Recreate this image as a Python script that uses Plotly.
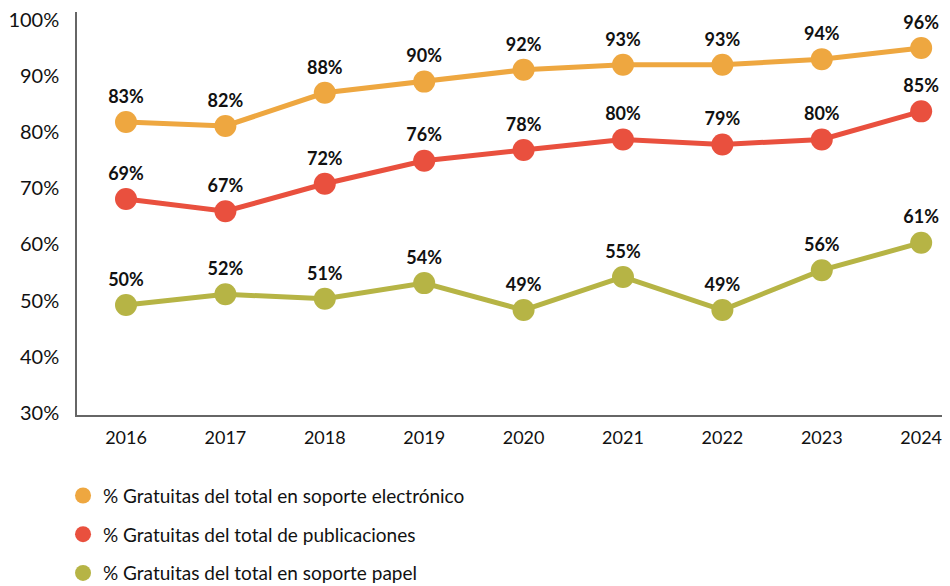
import plotly.graph_objects as go

years = [2016, 2017, 2018, 2019, 2020, 2021, 2022, 2023, 2024]

names = [
    "% Gratuitas del total en soporte electrónico",
    "% Gratuitas del total de publicaciones",
    "% Gratuitas del total en soporte papel",
]

# plotted positions
electronico = [81.8, 81.1, 87.0, 89.0, 91.1, 92.0, 92.0, 93.0, 95.0]
publicaciones = [68.1, 65.9, 70.8, 74.9, 76.8, 78.7, 77.8, 78.7, 83.7]
papel = [49.2, 51.1, 50.3, 53.1, 48.3, 54.2, 48.3, 55.4, 60.3]

# data labels as printed
electronico_lbl = [83, 82, 88, 90, 92, 93, 93, 94, 96]
publicaciones_lbl = [69, 67, 72, 76, 78, 80, 79, 80, 85]
papel_lbl = [50, 52, 51, 54, 49, 55, 49, 56, 61]

y_ticks = [30, 40, 50, 60, 70, 80, 90, 100]

colors = ["#EEA740", "#E9503E", "#B6B445"]

series = [electronico, publicaciones, papel]
labels = [electronico_lbl, publicaciones_lbl, papel_lbl]

font_family = "Lato, 'Open Sans', sans-serif"

fig = go.Figure()
for i, (vals, lbls) in enumerate(zip(series, labels)):
    fig.add_trace(go.Scatter(
        x=years, y=vals, mode="lines+markers+text",
        text=[f"{v}%" for v in lbls],
        textposition="top center",
        textfont=dict(family=font_family, size=18, color="#111111", weight="bold"),
        line=dict(color=colors[i], width=5),
        marker=dict(color=colors[i], size=22),
        showlegend=False, hoverinfo="skip", cliponaxis=False,
    ))

# legend entries (circle only)
for i, nm in enumerate(names):
    fig.add_trace(go.Scatter(
        x=[None], y=[None], mode="markers", name=nm,
        marker=dict(color=colors[i], size=18),
        legendgroup=f"g{i}", showlegend=True,
    ))

fig.update_layout(
    width=942, height=578,
    margin=dict(l=69, r=0, t=4, b=171, autoexpand=False),
    paper_bgcolor="white", plot_bgcolor="white",
    font=dict(family=font_family, size=18, color="#111111"),
    xaxis=dict(
        range=[2015.507, 2024.29], tickmode="array", tickvals=years,
        ticktext=[str(y) for y in years],
        showgrid=False, zeroline=False, showline=True,
        linecolor="#666666", linewidth=1.5, ticks="", ticklen=0,
        tickfont=dict(size=18), fixedrange=True, automargin=False,
        ticklabelstandoff=6, ticklabeloverflow="allow",
    ),
    yaxis=dict(
        range=[29.6, 101.4], tickmode="array", tickvals=y_ticks,
        ticktext=[f"{v}%" for v in y_ticks],
        showgrid=False, zeroline=False, showline=True,
        linecolor="#666666", linewidth=1.5, ticks="", ticklen=0,
        tickfont=dict(size=20), fixedrange=True, automargin=False,
        ticklabelstandoff=12, ticklabeloverflow="allow",
    ),
    legend=dict(
        x=-0.016, xanchor="left", y=-0.153, yanchor="top",
        font=dict(size=19), tracegroupgap=11,
        bgcolor="rgba(0,0,0,0)", itemclick=False, itemdoubleclick=False,
    ),
    showlegend=True,
)

fig.write_html("out.html")
